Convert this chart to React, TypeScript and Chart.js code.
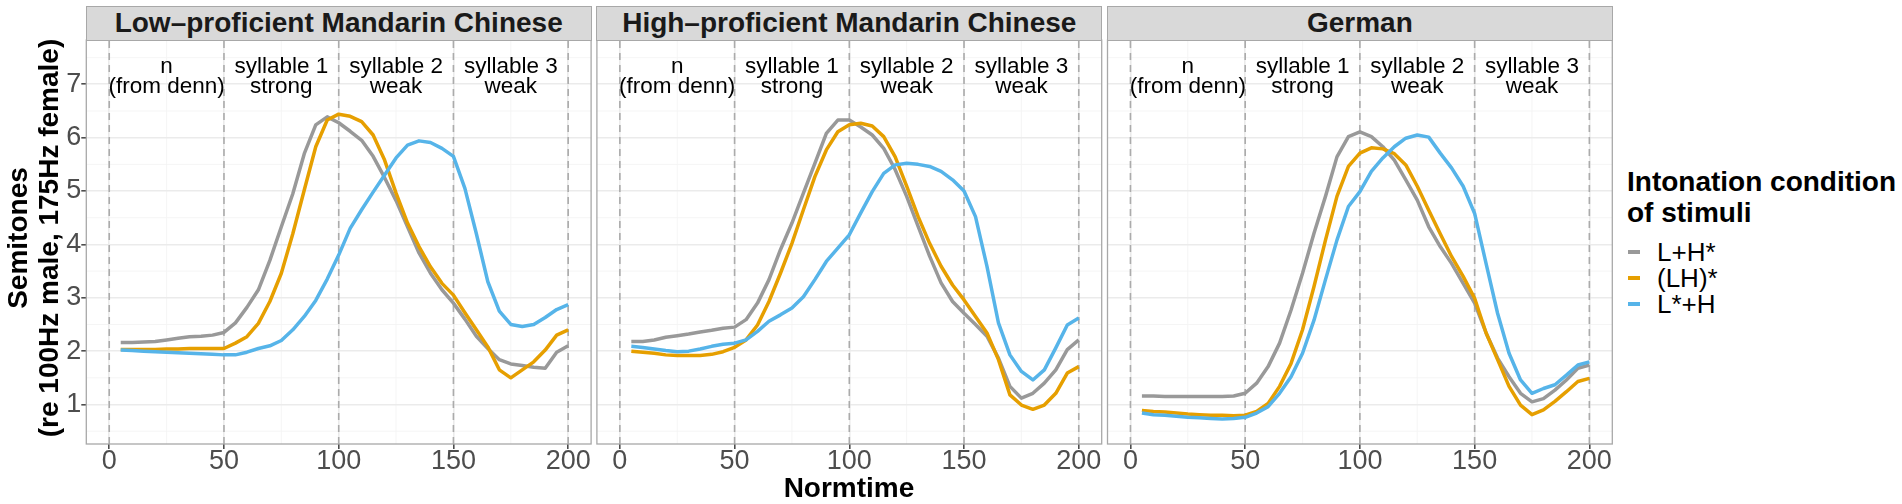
import { useEffect, useRef } from "react";
import { Chart, registerables } from "chart.js";

Chart.register(...registerables);

const FONT = "'Liberation Sans', Arial, Helvetica, sans-serif";

// x positions (normalised time) shared by every curve
const NORMTIME = [
  5, 10, 15, 20, 25, 30, 35, 40, 45, 50, 55, 60, 65, 70, 75, 80, 85, 90, 95, 100,
  105, 110, 115, 120, 125, 130, 135, 140, 145, 150, 155, 160, 165, 170, 175, 180, 185, 190, 195, 200,
];

const CONDITIONS = ["L+H*", "(LH)*", "L*+H"];
const COLORS = ["#999999", "#E69F00", "#56B4E9"];

const LOW_LHSTAR = [
  2.16, 2.16, 2.17, 2.18, 2.21, 2.24, 2.27, 2.28, 2.3, 2.35, 2.53, 2.82, 3.15, 3.7, 4.33, 4.95, 5.7, 6.24, 6.39, 6.28,
  6.12, 5.95, 5.65, 5.25, 4.82, 4.33, 3.84, 3.46, 3.15, 2.9, 2.6, 2.28, 2.05, 1.84, 1.76, 1.73, 1.7, 1.68, 1.98, 2.1,
];
const LOW_LH = [
  2.03, 2.03, 2.03, 2.03, 2.04, 2.04, 2.05, 2.05, 2.05, 2.05, 2.15, 2.27, 2.52, 2.93, 3.46, 4.2, 5.02, 5.83, 6.33, 6.44,
  6.4, 6.3, 6.05, 5.58, 4.96, 4.4, 3.96, 3.58, 3.27, 3.05, 2.72, 2.4, 2.08, 1.65, 1.5, 1.65, 1.8, 2.02, 2.3, 2.4,
];
const LOW_LSTAR = [
  2.02, 2.01, 2.0, 1.99, 1.98, 1.97, 1.96, 1.95, 1.94, 1.93, 1.93, 1.98, 2.05, 2.1, 2.2, 2.4, 2.65, 2.95, 3.35, 3.8,
  4.3, 4.65, 4.98, 5.3, 5.62, 5.86, 5.94, 5.91, 5.8, 5.65, 5.05, 4.2, 3.3, 2.75, 2.5, 2.46, 2.5, 2.63, 2.78, 2.87,
];

const HIGH_LHSTAR = [
  2.18, 2.18, 2.21, 2.26, 2.29, 2.32, 2.36, 2.39, 2.43, 2.45, 2.59, 2.9, 3.34, 3.9, 4.4, 4.96, 5.52, 6.08, 6.33, 6.33,
  6.2, 6.05, 5.8, 5.4, 4.9, 4.34, 3.78, 3.28, 2.93, 2.71, 2.5, 2.28, 1.87, 1.34, 1.12, 1.21, 1.4, 1.65, 2.03, 2.21,
];
const HIGH_LH = [
  2.0, 1.98, 1.96, 1.93, 1.92, 1.92, 1.92, 1.94, 1.99, 2.07, 2.21, 2.49, 2.93, 3.46, 4.02, 4.65, 5.27, 5.77, 6.11, 6.24,
  6.27, 6.22, 6.02, 5.64, 5.09, 4.52, 4.02, 3.59, 3.24, 2.96, 2.65, 2.34, 1.84, 1.18, 0.99, 0.91, 0.99, 1.21, 1.59, 1.71,
];
const HIGH_LSTAR = [
  2.09, 2.07, 2.04, 2.01, 1.99, 2.0, 2.04, 2.09, 2.13, 2.15, 2.21, 2.37, 2.56, 2.68, 2.81, 3.02, 3.34, 3.68, 3.93, 4.18,
  4.59, 4.99, 5.33, 5.49, 5.52, 5.5, 5.46, 5.37, 5.21, 5.0, 4.52, 3.59, 2.53, 1.93, 1.62, 1.46, 1.65, 2.06, 2.49, 2.62,
];

const GER_LHSTAR = [
  1.16, 1.16, 1.15, 1.15, 1.15, 1.15, 1.15, 1.15, 1.16, 1.21, 1.4, 1.71, 2.15, 2.77, 3.46, 4.21, 4.9, 5.64, 6.02, 6.11,
  6.02, 5.83, 5.58, 5.21, 4.83, 4.33, 3.96, 3.64, 3.27, 2.9, 2.34, 1.87, 1.52, 1.21, 1.05, 1.11, 1.27, 1.46, 1.68, 1.74,
];
const GER_LH = [
  0.89, 0.87, 0.86, 0.84, 0.82, 0.81, 0.8, 0.8, 0.79, 0.8, 0.87, 1.02, 1.34, 1.77, 2.4, 3.21, 4.08, 4.9, 5.46, 5.71,
  5.81, 5.79, 5.7, 5.49, 5.09, 4.64, 4.2, 3.77, 3.4, 2.99, 2.34, 1.84, 1.34, 0.99, 0.81, 0.9, 1.06, 1.24, 1.43, 1.49,
];
const GER_LSTAR = [
  0.84, 0.81, 0.8, 0.78, 0.76, 0.75, 0.74, 0.73, 0.74, 0.76, 0.84, 0.96, 1.21, 1.52, 1.96, 2.58, 3.34, 4.08, 4.71, 4.99,
  5.37, 5.62, 5.83, 5.99, 6.05, 6.01, 5.71, 5.43, 5.09, 4.58, 3.64, 2.71, 1.96, 1.46, 1.21, 1.3, 1.37, 1.55, 1.74, 1.8,
];

const PANEL_TITLES = ["Low\u2013proficient Mandarin Chinese", "High\u2013proficient Mandarin Chinese", "German"];
const PANEL_SERIES = [
  [LOW_LHSTAR, LOW_LH, LOW_LSTAR],
  [HIGH_LHSTAR, HIGH_LH, HIGH_LSTAR],
  [GER_LHSTAR, GER_LH, GER_LSTAR],
];

const BOUNDARIES = [0, 50, 100, 150, 200];
const SEGMENT_X = [25, 75, 125, 175];
const SEGMENT_TOP = ["n", "syllable 1", "syllable 2", "syllable 3"];
const SEGMENT_BOTTOM = ["(from denn)", "strong", "weak", "weak"];
const SEGMENT_Y = 7.0;

const X_TICKS = [0, 50, 100, 150, 200];
const X_MINOR = [25, 75, 125, 175];
const Y_TICKS = [1, 2, 3, 4, 5, 6, 7];
const Y_MINOR = [0.5, 1.5, 2.5, 3.5, 4.5, 5.5, 6.5, 7.5];

// layout (px)
const PLOT_TOP = 40;
const PLOT_BOTTOM = 444;
const CANVAS_H = 480;
const X_AXIS_H = 32;
const FIRST_LEFT = 86.3;
const PANEL_W = 504.8;
const GAP = 5.8;

const facetPlugin = {
  id: "facet",
  beforeDraw(chart: any) {
    const { ctx, chartArea: a, scales } = chart;
    ctx.save();
    ctx.strokeStyle = "#F4F4F4";
    ctx.lineWidth = 0.9;
    ctx.beginPath();
    X_MINOR.forEach((v) => {
      const px = scales.x.getPixelForValue(v);
      ctx.moveTo(px, a.top);
      ctx.lineTo(px, a.bottom);
    });
    Y_MINOR.forEach((v) => {
      const py = scales.y.getPixelForValue(v);
      ctx.moveTo(a.left, py);
      ctx.lineTo(a.right, py);
    });
    ctx.stroke();
    ctx.restore();
  },
  beforeDatasetsDraw(chart: any) {
    const { ctx, chartArea: a, scales } = chart;
    ctx.save();
    ctx.strokeStyle = "#ABABAB";
    ctx.lineWidth = 1.6;
    ctx.setLineDash([7, 5]);
    BOUNDARIES.forEach((v) => {
      const px = scales.x.getPixelForValue(v);
      ctx.beginPath();
      ctx.moveTo(px, a.bottom);
      ctx.lineTo(px, a.top);
      ctx.stroke();
    });
    ctx.restore();
  },
  afterDatasetsDraw(chart: any) {
    const { ctx, chartArea: a, scales } = chart;
    ctx.save();
    ctx.fillStyle = "#000000";
    ctx.font = `22.5px ${FONT}`;
    ctx.textAlign = "center";
    ctx.textBaseline = "alphabetic";
    const py = scales.y.getPixelForValue(SEGMENT_Y);
    SEGMENT_X.forEach((v, i) => {
      const px = scales.x.getPixelForValue(v);
      ctx.fillText(SEGMENT_TOP[i], px, py - 11.6);
      ctx.fillText(SEGMENT_BOTTOM[i], px, py + 9);
    });
    ctx.strokeStyle = "#A8A8A8";
    ctx.lineWidth = 1.3;
    ctx.strokeRect(a.left, a.top, a.right - a.left, a.bottom - a.top);
    ctx.restore();
  },
};

function Panel({ index }: { index: number }) {
  const canvasRef = useRef<HTMLCanvasElement>(null);
  const plotLeft = FIRST_LEFT + index * (PANEL_W + GAP);
  const plotRight = plotLeft + PANEL_W;
  const canvasLeft = index === 0 ? 0 : Math.floor(plotLeft) - 4;
  const canvasRight = Math.ceil(plotRight) + 4;
  const width = canvasRight - canvasLeft;

  useEffect(() => {
    if (!canvasRef.current) return;
    const series = PANEL_SERIES[index];
    const chart = new Chart(canvasRef.current, {
      type: "line",
      data: {
        datasets: series.map((vals, k) => ({
          label: CONDITIONS[k],
          data: NORMTIME.map((x, i) => ({ x, y: vals[i] })),
          borderColor: COLORS[k],
          backgroundColor: COLORS[k],
          borderWidth: 3.5,
          borderJoinStyle: "round" as const,
          pointRadius: 0,
          tension: 0,
          order: 3 - k,
        })),
      },
      options: {
        responsive: false,
        animation: false,
        events: [],
        layout: {
          padding: {
            left: index === 0 ? 0 : plotLeft - canvasLeft,
            right: canvasRight - plotRight,
            top: PLOT_TOP,
            bottom: CANVAS_H - PLOT_BOTTOM - X_AXIS_H,
          },
        },
        plugins: { legend: { display: false }, tooltip: { enabled: false } },
        scales: {
          x: {
            type: "linear",
            min: -10,
            max: 210,
            afterBuildTicks: (s: any) => {
              s.ticks = X_TICKS.map((v) => ({ value: v }));
            },
            afterFit: (s: any) => {
              s.height = X_AXIS_H;
            },
            grid: { color: "#EBEBEB", lineWidth: 1.6, tickColor: "#4D4D4D", tickLength: 5 },
            border: { display: false },
            ticks: {
              color: "#4D4D4D",
              font: { size: 27, family: FONT },
              padding: -4,
              maxRotation: 0,
              autoSkip: false,
            },
          },
          y: {
            type: "linear",
            min: 0.26,
            max: 7.83,
            afterBuildTicks: (s: any) => {
              s.ticks = Y_TICKS.map((v) => ({ value: v }));
            },
            afterFit: (s: any) => {
              s.width = index === 0 ? plotLeft - canvasLeft : 0;
            },
            grid: {
              color: "#EBEBEB",
              lineWidth: 1.6,
              tickColor: "#4D4D4D",
              tickLength: 5,
              drawTicks: index === 0,
            },
            border: { display: false },
            ticks: {
              display: index === 0,
              color: "#4D4D4D",
              font: { size: 27, family: FONT },
              padding: 0,
            },
          },
        },
      },
      plugins: [facetPlugin],
    });
    return () => chart.destroy();
  }, [index]);

  return (
    <>
      <canvas
        ref={canvasRef}
        width={width}
        height={CANVAS_H}
        style={{ position: "absolute", left: canvasLeft, top: 0, width, height: CANVAS_H }}
      />
      <div
        style={{
          position: "absolute",
          left: plotLeft - 0.65,
          top: 5.7,
          width: PANEL_W + 1.3,
          height: PLOT_TOP - 5.7 + 0.65,
          boxSizing: "border-box",
          background: "#D9D9D9",
          border: "1.3px solid #A8A8A8",
          display: "flex",
          alignItems: "center",
          justifyContent: "center",
          fontWeight: "bold",
          fontSize: 28,
          color: "#1A1A1A",
          lineHeight: "28px",
        }}
      >
        {PANEL_TITLES[index]}
      </div>
    </>
  );
}

export default function App() {
  return (
    <div
      style={{
        position: "absolute",
        left: 0,
        top: 0,
        width: 1902,
        height: 504,
        background: "#FFFFFF",
        fontFamily: FONT,
        overflow: "hidden",
      }}
    >
      {PANEL_TITLES.map((_, i) => (
        <Panel key={i} index={i} />
      ))}
      <div
        style={{
          position: "absolute",
          left: 33 - 215,
          top: 238 - 31,
          width: 430,
          height: 62,
          transform: "rotate(-90deg)",
          textAlign: "center",
          fontWeight: "bold",
          fontSize: 28,
          lineHeight: "31px",
          color: "#000",
          whiteSpace: "nowrap",
        }}
      >
        Semitones
        <br />
        (re 100Hz male, 175Hz female)
      </div>
      <div
        style={{
          position: "absolute",
          left: 849 - 150,
          top: 472,
          width: 300,
          height: 32,
          textAlign: "center",
          fontWeight: "bold",
          fontSize: 28,
          lineHeight: "32px",
          color: "#000",
        }}
      >
        Normtime
      </div>
      <div
        style={{
          position: "absolute",
          left: 1627,
          top: 166,
          fontWeight: "bold",
          fontSize: 28,
          lineHeight: "31px",
          color: "#000",
          whiteSpace: "nowrap",
        }}
      >
        Intonation condition
        <br />
        of stimuli
      </div>
      {CONDITIONS.map((c, i) => (
        <div
          key={c}
          style={{
            position: "absolute",
            left: 1628,
            top: 252 + i * 25.8 - 13,
            height: 26,
            display: "flex",
            alignItems: "center",
            whiteSpace: "nowrap",
          }}
        >
          <div style={{ width: 12, height: 4, background: COLORS[i], marginRight: 17 }} />
          <span style={{ fontSize: 26, lineHeight: "26px", color: "#000" }}>{c}</span>
        </div>
      ))}
    </div>
  );
}
